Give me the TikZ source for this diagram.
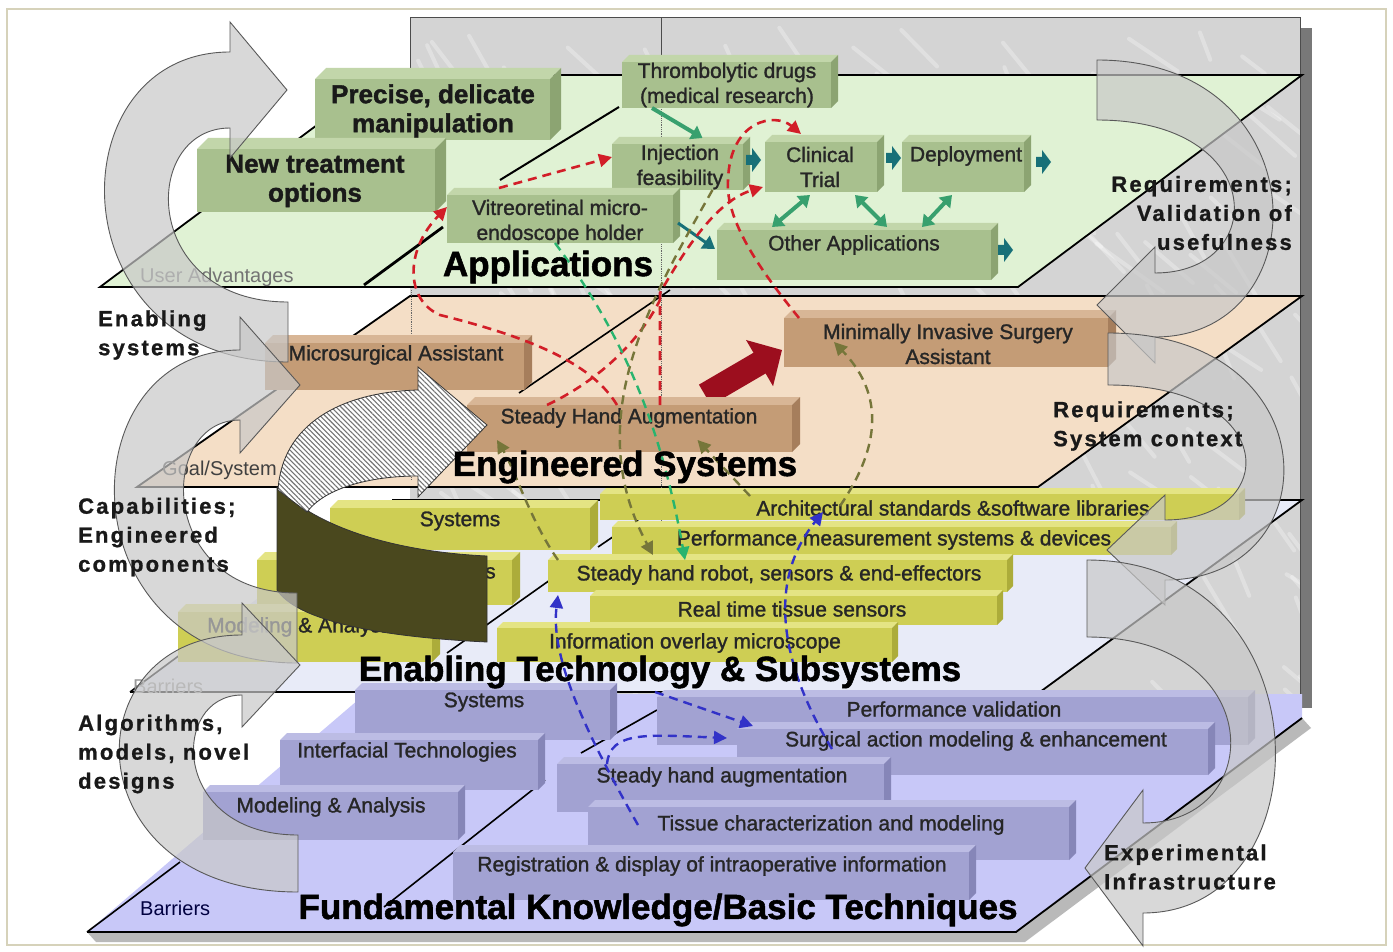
\documentclass[tikz,border=0pt]{standalone}
\usepackage{fontspec}
\setmainfont{Liberation Sans}
\newfontfamily\boxfont{Liberation Sans}[FakeBold=1.3]
\newfontfamily\heavyfont{Liberation Sans}[BoldFeatures={FakeBold=1.5}]
\newfontfamily\sidefont{Liberation Sans}[BoldFeatures={LetterSpace=10,FakeBold=1}]
\usetikzlibrary{patterns,patterns.meta,arrows.meta,calc}
\definecolor{frameC}{RGB}{214,210,186}
\definecolor{marble}{RGB}{212,212,212}
\definecolor{marbleS}{RGB}{120,120,120}
\definecolor{appP}{RGB}{224,242,212}
\definecolor{engP}{RGB}{244,222,198}
\definecolor{enaP}{RGB}{232,235,248}
\definecolor{funP}{RGB}{200,200,248}
\definecolor{gF}{RGB}{168,192,142}\definecolor{gT}{RGB}{194,214,170}\definecolor{gS}{RGB}{140,164,114}
\definecolor{tF}{RGB}{196,156,118}\definecolor{tT}{RGB}{216,182,150}\definecolor{tS}{RGB}{166,126,92}
\definecolor{oF}{RGB}{206,206,84}\definecolor{oT}{RGB}{228,228,132}\definecolor{oS}{RGB}{172,172,58}
\definecolor{pF}{RGB}{162,162,210}\definecolor{pT}{RGB}{188,188,228}\definecolor{pS}{RGB}{134,134,184}
\definecolor{tealA}{RGB}{24,112,120}
\definecolor{greenA}{RGB}{56,160,110}
\definecolor{greenD}{RGB}{40,180,110}
\definecolor{redD}{RGB}{210,30,40}
\definecolor{oliveD}{RGB}{118,118,58}
\definecolor{blueD}{RGB}{50,50,200}
\definecolor{darkOl}{RGB}{74,72,30}
\definecolor{bigRed}{RGB}{156,14,30}
\definecolor{arrG}{RGB}{200,200,200}
\newcommand{\tdbox}[7]{%
  \fill[#7T] (#2,#3) -- (#2+#6,#3-#6) -- (#4+#6,#3-#6) -- (#4,#3) -- cycle;
  \fill[#7S] (#4,#3) -- (#4+#6,#3-#6) -- (#4+#6,#5-#6) -- (#4,#5) -- cycle;
  \pgfmathsetmacro\tdw{#4-#2}\pgfmathsetmacro\tdh{#5-#3}%
  \node[fill=#7F, minimum width=\tdw pt, minimum height=\tdh pt, inner sep=0pt, outer sep=0pt, anchor=north west] (#1) at (#2,#3) {};
}
\newcommand{\tealtip}[2]{\fill[tealA] (#1,#2-5) -- (#1+6,#2-5) -- (#1+6,#2-12) -- (#1+15,#2) -- (#1+6,#2+12) -- (#1+6,#2+5) -- (#1,#2+5) -- cycle;}
\begin{document}
\begin{tikzpicture}[x=1pt,y=-1pt,
  btxt/.style={font=\boxfont\fontsize{21}{25}\selectfont, align=center, text=black!85, inner sep=0pt},
  bbold/.style={font=\heavyfont\bfseries\fontsize{26}{29}\selectfont, align=center, text=black!90, inner sep=0pt},
  bigl/.style={font=\heavyfont\bfseries\fontsize{35}{38}\selectfont, inner sep=0pt},
  sidel/.style={font=\sidefont\bfseries\fontsize{22}{29}\selectfont, inner sep=0pt, text=black!90},
  smalll/.style={font=\fontsize{20}{22}\selectfont, inner sep=0pt},
  planeedge/.style={draw=black, line width=1.8pt},
  guide/.style={draw=black, line width=1.6pt},
  garr/.style={draw=greenA, line width=4pt, {Triangle[length=11pt,width=15pt]}-{Triangle[length=11pt,width=15pt]}},
  rdash/.style={draw=redD, line width=2.6pt, dash pattern=on 9pt off 6pt, -{Triangle[length=13pt,width=13pt]}},
  gdash/.style={draw=greenD, line width=2.4pt, dash pattern=on 9pt off 6pt, -{Triangle[length=13pt,width=13pt]}},
  odash/.style={draw=oliveD, line width=2.4pt, dash pattern=on 9pt off 6pt, -{Triangle[length=13pt,width=13pt]}},
  bdash/.style={draw=blueD, line width=2.4pt, dash pattern=on 9pt off 6pt, -{Triangle[length=13pt,width=13pt]}},
  carrow/.style={fill=arrG, fill opacity=0.7, draw=black!65, line width=0.9pt}
]
\useasboundingbox (0,0) rectangle (1393,952);
\fill[white] (0,0) rectangle (1393,952);
\draw[frameC, line width=2.5pt] (7,9) rectangle (1386,945);

% marble background
\fill[marbleS] (1300,28) rectangle (1312,708);
\fill[marble] (410,18) rectangle (1300,698);
\begin{scope}
  \clip (410,18) rectangle (1300,698);
  \pgfmathsetseed{42}
  \foreach \k in {1,...,220}{
    \pgfmathsetmacro\mx{410+890*rnd}
    \pgfmathsetmacro\my{18+680*rnd}
    \pgfmathsetmacro\ma{30+40*rnd}
    \pgfmathsetmacro\ml{25+60*rnd}
    \draw[white, opacity=0.3, line width=4pt, line cap=round] (\mx,\my) -- ++(\ma:\ml);
  }
\end{scope}
\draw[black!70, line width=1pt] (410,18) -- (1300,18) -- (1300,698);
\draw[black!70, line width=1pt] (410,18) -- (410,75);
\draw[black!70, line width=0.8pt] (661,18) -- (661,75);

% planes
\fill[gray!55] (96,942) -- (1025,942) -- (1311,728) -- (1302,718) -- (1016,932) -- (87,932) -- cycle;
\fill[funP] (87,932) -- (1016,932) -- (1302,718) -- (1302,694) -- (365,694) -- cycle;
\draw[planeedge] (87,932) -- (1016,932) -- (1302,718);
\draw[guide] (87,932) -- (180,862);
\fill[enaP] (130,692) -- (1040,692) -- (1302,500) -- (392,500) -- cycle;
\draw[planeedge] (130,692) -- (1040,692) -- (1302,500) -- (392,500);
\draw[guide] (130,692) -- (200,640);
\fill[engP] (137,487) -- (1038,487) -- (1302,296) -- (410,296) -- cycle;
\draw[planeedge] (137,487) -- (1038,487) -- (1302,296) -- (410,296) -- cycle;
\fill[appP] (100,287) -- (1018,287) -- (1302,75) -- (384,75) -- cycle;
\draw[planeedge] (100,287) -- (1018,287) -- (1302,75) -- (384,75) -- cycle;

% guide lines
\draw[black, line width=2.8pt] (364,285) -- (443,227);
\draw[black, line width=2pt] (500,180) -- (619,107);
\draw[guide] (519,393) -- (670,290);
\draw[guide] (598,547) -- (667,500);
\draw[guide] (447,653) -- (550,580);
\draw[guide] (581,753) -- (657,710);
\draw[guide] (384,907) -- (545,780);
\draw[black!60, densely dotted, line width=0.8pt] (661,75) -- (661,560);
\draw[black!60, densely dotted, line width=0.8pt] (411,290) -- (411,480);

% small plane labels
\node[smalll, text=black!55, anchor=west] (ua) at (140,277) {User Advantages};
\node[smalll, text=black!75, anchor=west] (gs) at (162,470) {Goal/System};
\node[smalll, text=black!40, anchor=west] (bar1) at (133,686) {Barriers};
\node[smalll, text=black!75!blue, anchor=west] (bar2) at (140,908) {Barriers};

% red block arrow
\draw[bigRed, line width=24pt, -{Triangle[length=26pt,width=52pt]}] (705,395) -- (782,350);

% green boxes
\tdbox{precise}{315}{79}{550}{140}{11}{g}
\node[bbold] (precise-t) at (433,111) {Precise, delicate\\manipulation};
\tdbox{newtreat}{197}{149}{435}{212}{11}{g}
\node[bbold] (newtreat-t) at (315,181) {New treatment\\options};
\tdbox{thromb}{622}{62}{831}{108}{7}{g}
\node[btxt] (thromb-t) at (727,85) {Thrombolytic drugs\\(medical research)};
\tdbox{inject}{612}{144}{743}{190}{7}{g}
\node[btxt] (inject-t) at (680,167) {Injection\\feasibility};
\tdbox{clinical}{765}{142}{877}{192}{7}{g}
\node[btxt] (clinical-t) at (820,167) {Clinical\\Trial};
\tdbox{deploy}{902}{142}{1024}{192}{7}{g}
\node[btxt] (deploy-t) at (966,156) {Deployment};
\tdbox{vitreo}{447}{195}{673}{243}{7}{g}
\node[btxt] (vitreo-t) at (560,222) {Vitreoretinal micro-\\endoscope holder};
\tdbox{other}{717}{230}{991}{280}{7}{g}
\node[btxt] (other-t) at (854,245) {Other Applications};
\tealtip{746}{160}
\tealtip{886}{158}
\tealtip{1036}{162}
\tealtip{998}{250}

% tan boxes
\tdbox{micro}{265}{343}{524}{390}{8}{t}
\node[btxt] (micro-t) at (396,355) {Microsurgical Assistant};
\tdbox{mis}{784}{318}{1108}{367}{8}{t}
\node[btxt] (mis-t) at (948,344) {Minimally Invasive Surgery\\Assistant};
\tdbox{sha}{467}{405}{792}{452}{8}{t}
\node[btxt] (sha-t) at (629,418) {Steady Hand Augmentation};

% olive boxes
\tdbox{archE}{600}{494}{1239}{520}{6}{o}
\node[btxt] (archE-t) at (953,508) {Architectural standards \&software libraries};
\tdbox{perfE}{612}{527}{1171}{555}{6}{o}
\node[btxt] (perfE-t) at (894,540) {Performance measurement systems \& devices};
\tdbox{sysE}{330}{508}{590}{550}{8}{o}
\node[btxt] (sysE-t) at (460,521) {Systems};
\tdbox{interE}{257}{560}{512}{605}{8}{o}
\node[btxt] (interE-t) at (386,573) {Interfacial Technologies};
\tdbox{shrE}{548}{560}{1007}{592}{6}{o}
\node[btxt] (shrE-t) at (779,575) {Steady hand robot, sensors \& end-effectors};
\tdbox{rtE}{590}{596}{997}{625}{6}{o}
\node[btxt] (rtE-t) at (792,609) {Real time tissue sensors};
\tdbox{modE}{178}{612}{432}{662}{8}{o}
\node[btxt, anchor=west] (modE-t) at (207,627) {Modeling \& Analysis};
\tdbox{infoE}{497}{628}{892}{662}{6}{o}
\node[btxt] (infoE-t) at (695,643) {Information overlay microscope};

% purple boxes
\tdbox{sysF}{355}{690}{610}{740}{7}{p}
\node[btxt] (sysF-t) at (484,702) {Systems};
\tdbox{perfvF}{657}{697}{1248}{745}{7}{p}
\node[btxt] (perfvF-t) at (954,709) {Performance validation};
\tdbox{surgF}{737}{729}{1208}{775}{7}{p}
\node[btxt] (surgF-t) at (976,741) {Surgical action modeling \& enhancement};
\tdbox{interF}{280}{740}{538}{790}{7}{p}
\node[btxt] (interF-t) at (407,752) {Interfacial Technologies};
\tdbox{shaF}{557}{764}{884}{812}{7}{p}
\node[btxt] (shaF-t) at (722,777) {Steady hand augmentation};
\tdbox{modF}{203}{792}{458}{840}{7}{p}
\node[btxt] (modF-t) at (331,807) {Modeling \& Analysis};
\tdbox{tissF}{588}{807}{1069}{860}{7}{p}
\node[btxt] (tissF-t) at (831,825) {Tissue characterization and modeling};
\tdbox{regF}{453}{852}{969}{900}{7}{p}
\node[btxt] (regF-t) at (712,866) {Registration \& display of intraoperative information};

% green solid arrows
\draw[garr, -{Triangle[length=11pt,width=15pt]}] ($(thromb.south west)+(30,0)$) -- ($(inject.north)+(25,-6)$);
\draw[garr] ($(other.north west)+(55,-3)$) -- ($(clinical.south west)+(45,3)$);
\draw[garr] ($(clinical.south east)+(-22,3)$) -- ($(other.north west)+(170,-3)$);
\draw[garr] ($(other.north west)+(205,-3)$) -- ($(deploy.south west)+(50,3)$);
\draw[draw=tealA, line width=3pt, -{Triangle[length=12pt,width=15pt]}] ($(vitreo.south east)+(5,-20)$) -- ($(other.west)+(-2,-6)$);

% dashed connectors
\draw[rdash] ($(vitreo.north west)+(52,-7)$) -- ($(inject.west)+(0,-10)$);
\draw[rdash] ($(sha.north west)+(150,0)$) .. controls (590,360) and (520,335) .. (440,315) .. controls (405,300) and (405,250) .. ($(vitreo.west)+(0,-12)$);
\draw[rdash] ($(sha.north west)+(193,0)$) -- (660,293) .. controls (690,240) and (720,200) .. ($(clinical.south west)+(-2,-5)$);
\draw[redD, line width=2.6pt, dash pattern=on 9pt off 6pt] ($(sha.north west)+(80,0)$) .. controls (600,380) and (640,340) .. (660,300);
\draw[rdash] ($(mis.north west)+(15,0)$) .. controls (760,270) and (725,220) .. (728,180) .. controls (730,120) and (775,112) .. ($(clinical.north)+(-20,-8)$);
\draw[gdash] ($(vitreo.south west)+(108,0)$) .. controls (620,330) and (660,420) .. ($(shrE.north west)+(137,0)$);
\draw[odash] ($(shrE.north west)+(10,0)$) .. controls (530,520) and (515,470) .. ($(sha.south west)+(30,-12)$);
\draw[odash] ($(inject.south)+(35,0)$) .. controls (650,300) and (580,420) .. ($(shrE.north west)+(105,-5)$);
\draw[odash] ($(archE.north west)+(150,2)$) -- ($(sha.south)+(68,-12)$);
\draw[odash] ($(archE.north west)+(240,12)$) .. controls (885,440) and (880,390) .. ($(mis.south west)+(50,-25)$);
\draw[bdash] ($(tissF.north west)+(50,18)$) .. controls (590,740) and (550,660) .. ($(shrE.south west)+(10,3)$);
\draw[bdash] ($(shaF.north west)+(50,0)$) .. controls (610,730) and (650,735) .. ($(surgF.north west)+(-10,9)$);
\draw[bdash] ($(sysF.north east)+(45,2)$) -- ($(surgF.north west)+(16,-3)$);
\draw[bdash] ($(surgF.north west)+(95,20)$) .. controls (790,680) and (760,590) .. ($(archE.south west)+(223,-8)$);

% hatched curved arrow
\filldraw[fill=darkOl, draw=black!80, line width=0.8pt] (277,487) -- (277,590) .. controls (300,625) and (400,638) .. (487,642) -- (487,556) .. controls (400,552) and (320,530) .. (277,487) -- cycle;
\filldraw[preaction={fill=white}, pattern={Lines[angle=-45,distance=3.5pt,line width=1.1pt]}, pattern color=black!55, draw=black!80, line width=0.8pt] (278,490) .. controls (282,425) and (340,392) .. (418,390) -- (418,367) -- (487,425) -- (418,497) -- (418,476) .. controls (370,476) and (325,488) .. (307,512) -- cycle;

% big plane labels
\node[bigl] (l-app) at (548,267) {Applications};
\node[bigl] (l-eng) at (625,467) {Engineered Systems};
\node[bigl] (l-ena) at (660,672) {Enabling Technology \& Subsystems};
\node[bigl] (l-fun) at (658,910) {Fundamental Knowledge/Basic Techniques};

% curved gray arrows
\filldraw[carrow] (288,362) .. controls (54,362) and (54,52) .. (230,52) -- (230,22) -- (287,90) -- (230,158) -- (230,128) .. controls (140,128) and (140,302) .. (288,302) -- cycle;
\filldraw[carrow] (297,663) .. controls (64,663) and (64,350) .. (240,350) -- (240,317) -- (300,385) -- (240,453) -- (240,420) .. controls (157,420) and (157,593) .. (297,593) -- cycle;
\filldraw[carrow] (298,892) .. controls (70,892) and (70,635) .. (242,635) -- (242,603) -- (300,665) -- (242,727) -- (242,695) .. controls (170,695) and (170,835) .. (298,835) -- cycle;
\filldraw[carrow] (1097,60) .. controls (1321,60) and (1321,337) .. (1155,337) -- (1155,363) -- (1097,305) -- (1155,247) -- (1155,273) .. controls (1269,273) and (1269,120) .. (1097,120) -- cycle;
\filldraw[carrow] (1108,333) .. controls (1332,333) and (1332,580) .. (1165,580) -- (1165,605) -- (1107,550) -- (1165,495) -- (1165,520) .. controls (1281,520) and (1281,385) .. (1108,385) -- cycle;
\filldraw[carrow] (1087,560) .. controls (1328,560) and (1328,913) .. (1143,913) -- (1143,946) -- (1085,868) -- (1143,790) -- (1143,823) .. controls (1268,823) and (1268,637) .. (1087,637) -- cycle;

% side labels
\node[sidel, align=left, anchor=west] (s-es) at (98,335) {Enabling\\systems};
\node[sidel, align=left, anchor=west] (s-cap) at (78,537) {Capabilities;\\Engineered\\components};
\node[sidel, align=left, anchor=west] (s-alg) at (78,754) {Algorithms,\\models, novel\\designs};
\node[sidel, align=right, anchor=east] (s-rv) at (1292,213) {Requirements;\\Validation of\\usefulness};
\node[sidel, align=left, anchor=west] (s-rs) at (1053,426) {Requirements;\\System context};
\node[sidel, align=left, anchor=west] (s-ei) at (1104,867) {Experimental\\Infrastructure};
\end{tikzpicture}
\end{document}
